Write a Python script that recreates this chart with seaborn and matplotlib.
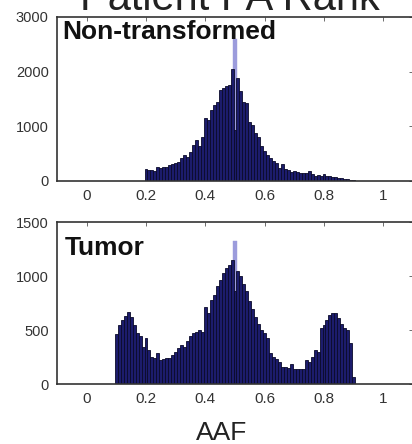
import numpy as np
import pandas as pd
import matplotlib
matplotlib.use("Agg")
import matplotlib.pyplot as plt
import seaborn as sns

# Dados (contagens, bins de largura 0.01 centrados em 0.01*k)
nt_centros = np.round(np.arange(0.20, 0.905, 0.01), 2)
nt_contagens = [213, 201, 201, 189, 262, 244, 262, 262, 293, 311,
                335, 354, 415, 476, 445, 537, 659, 750, 640, 800,
                1147, 1116, 1299, 1391, 1452, 1665, 1700, 1730, 1760, 2050,
                930, 1880, 1650, 1450, 1420, 1080, 1030, 870, 800, 640,
                550, 480, 420, 360, 330, 240, 320, 220, 200, 170,
                190, 160, 150, 140, 150, 190, 130, 100, 110, 100,
                125, 100, 90, 75, 70, 60, 50, 45, 35, 25, 10]
nt_pico = 2600

tu_centros = np.round(np.arange(0.10, 0.905, 0.01), 2)
tu_contagens = [464, 547, 594, 631, 671, 619, 547, 470, 445, 346,
                427, 315, 253, 241, 288, 222, 232, 241, 244, 269,
                300, 333, 362, 343, 402, 445, 470, 485, 500, 486,
                717, 656, 780, 826, 903, 965, 1030, 1070, 1104, 1150,
                857, 1042, 996, 930, 857, 770, 690, 620, 560, 501,
                470, 427, 287, 253, 232, 207, 161, 161, 145, 186,
                136, 136, 136, 136, 223, 207, 253, 315, 300, 517,
                547, 594, 640, 662, 656, 609, 560, 520, 500, 377, 68]
tu_pico = 1320
pico_centro = 0.50

titulo = "Patient PA Rank"
rotulos = ["Non-transformed", "Tumor"]
xticks = [0, 0.2, 0.4, 0.6, 0.8, 1]
xtick_rotulos = ["0", "0.2", "0.4", "0.6", "0.8", "1"]

sns.set_style("white")
plt.rcParams["font.family"] = ["Liberation Sans", "DejaVu Sans"]

cor_barra = "#1c1c6c"
cor_borda = "#0a0a2a"
cor_pico = "#9c9cdc"

fig = plt.figure(figsize=(4.12, 4.44), dpi=100)
ax1 = fig.add_axes([57 / 412, 1 - 181 / 444, 356 / 412, 164 / 444])
ax2 = fig.add_axes([57 / 412, 1 - 384 / 444, 356 / 412, 162 / 444])

paineis = [
    (ax1, nt_centros, nt_contagens, nt_pico, 3000, [0, 1000, 2000, 3000], 0.866, 0.014),
    (ax2, tu_centros, tu_contagens, tu_pico, 1500, [0, 500, 1000, 1500], 0.796, 0.022),
]

for (ax, centros, contagens, pico, ymax, yticks, ylab, xlab), rotulo in zip(paineis, rotulos):
    bordas = [round(c - 0.005, 3) for c in centros] + [round(centros[-1] + 0.005, 3)]
    # pico claro atras das barras
    pico_df = pd.DataFrame({"aaf": [pico_centro], "n": [pico]})
    sns.histplot(data=pico_df, x="aaf", weights="n",
                 bins=[pico_centro - 0.006, pico_centro + 0.006],
                 ax=ax, color=cor_pico, edgecolor=cor_pico, alpha=1, linewidth=0.3)
    dados = pd.DataFrame({"aaf": centros, "n": contagens})
    sns.histplot(data=dados, x="aaf", weights="n", bins=bordas, ax=ax,
                 color=cor_barra, edgecolor=cor_borda, alpha=1, linewidth=0.6)
    ax.set_xlim(-0.1, 1.1)
    ax.set_ylim(0, ymax)
    ax.set_xticks(xticks)
    ax.set_xticklabels(xtick_rotulos)
    ax.set_yticks(yticks)
    ax.set_xlabel("")
    ax.set_ylabel("")
    ax.tick_params(direction="in", length=3, width=0.6, colors="#555555",
                   labelcolor="#333333", top=True, right=True, pad=6)
    ax.tick_params(axis="x", labelsize=11)
    ax.tick_params(axis="y", labelsize=10.5)
    for s in ax.spines.values():
        s.set_color("#333333")
        s.set_linewidth(1.2)
    ax.text(xlab, ylab, rotulo, transform=ax.transAxes, fontsize=19,
            fontweight="bold", color="#111111", va="baseline", ha="left")

fig.text(0.558, 1 - 10 / 444, titulo, fontsize=30, ha="center", va="baseline", color="#222222")
fig.text(222 / 412, 4 / 444, "AAF", fontsize=19, ha="center", va="baseline", color="#222222")

fig.savefig("out.png", dpi=100)
